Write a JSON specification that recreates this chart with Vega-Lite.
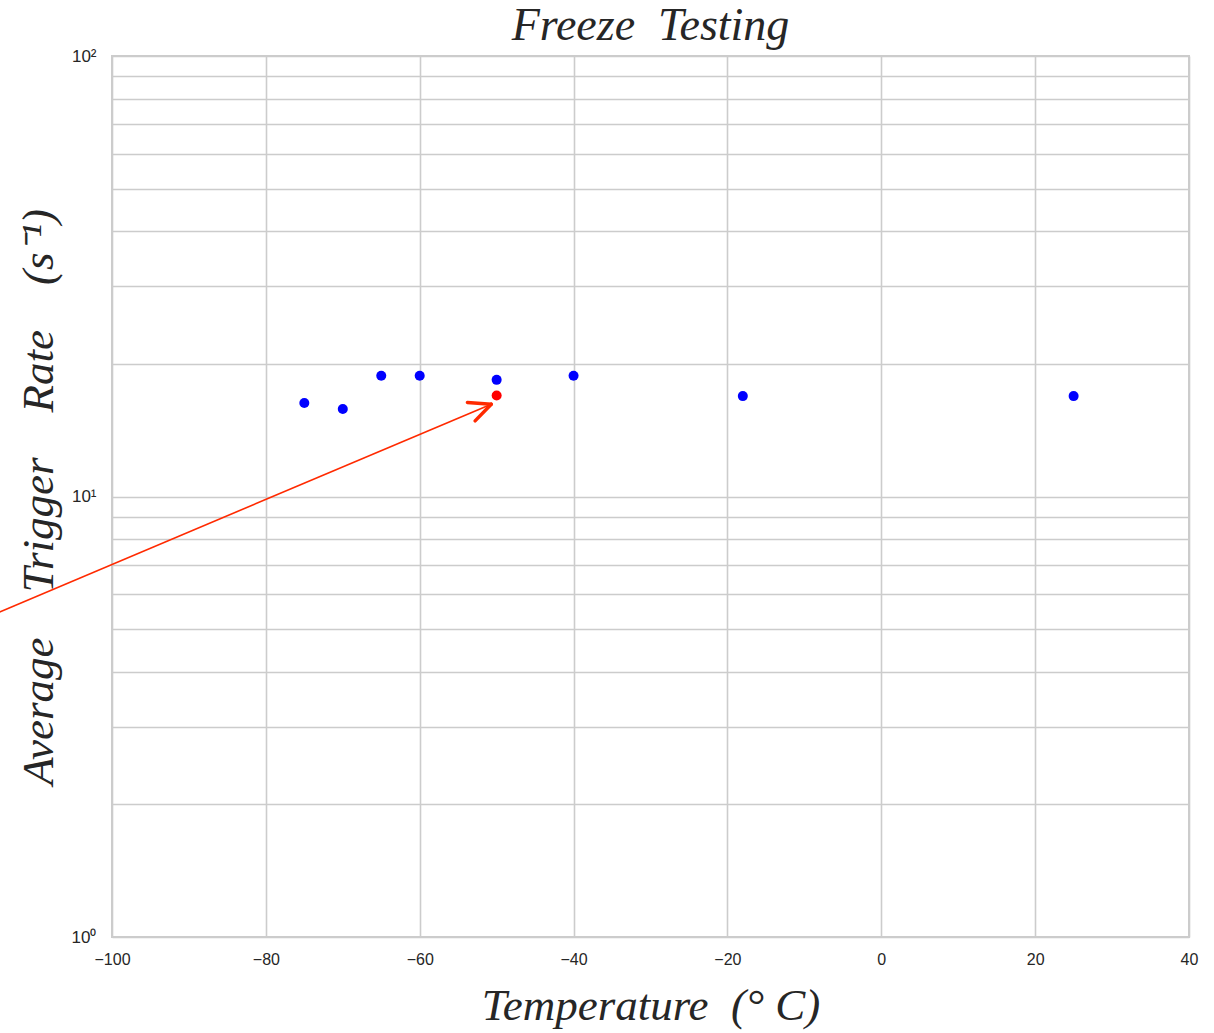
{
  "$schema": "https://vega.github.io/schema/vega-lite/v6.json",
  "width": 1077,
  "height": 881,
  "autosize": "none",
  "padding": {"left": 112, "top": 56, "right": 25, "bottom": 96},
  "background": "white",
  "config": {
    "view": {"stroke": "#cccccc", "strokeWidth": 2},
    "axis": {
      "grid": true,
      "gridColor": "#cccccc",
      "gridWidth": 1.6,
      "domain": false,
      "ticks": false,
      "labelFlush": false,
      "labelFont": "Liberation Sans",
      "labelFontSize": 16,
      "labelColor": "#262626",
      "titleFont": "Liberation Serif",
      "titleFontStyle": "italic",
      "titleFontWeight": "normal",
      "titleFontSize": 45,
      "titleColor": "#262626"
    }
  },
  "title": {
    "text": "Freeze\u00a0\u00a0Testing",
    "font": "Liberation Serif",
    "fontStyle": "italic",
    "fontWeight": "normal",
    "fontSize": 46,
    "color": "#262626",
    "offset": 6,
    "dy": 9
  },
  "datasets": {
    "points": [
      {"temp": -75, "rate": 16.3, "kind": "normal"},
      {"temp": -70, "rate": 15.8, "kind": "normal"},
      {"temp": -65, "rate": 18.8, "kind": "normal"},
      {"temp": -60, "rate": 18.8, "kind": "normal"},
      {"temp": -50, "rate": 18.4, "kind": "normal"},
      {"temp": -40, "rate": 18.8, "kind": "normal"},
      {"temp": -18, "rate": 16.9, "kind": "normal"},
      {"temp": 25, "rate": 16.9, "kind": "normal"},
      {"temp": -50, "rate": 16.95, "kind": "highlight"}
    ],
    "shaft": [
      {"temp": -114.6, "rate": 5.47, "seg": "shaft"},
      {"temp": -50.7, "rate": 16.2, "seg": "shaft"}
    ],
    "head": [
      {"temp": -53.8, "rate": 16.35, "seg": "a", "o": 1},
      {"temp": -50.7, "rate": 16.2, "seg": "a", "o": 2},
      {"temp": -50.7, "rate": 16.2, "seg": "b", "o": 1},
      {"temp": -52.8, "rate": 14.85, "seg": "b", "o": 2}
    ]
  },
  "layer": [
    {
      "data": {"name": "shaft"},
      "mark": {"type": "line", "color": "#ff2a00", "strokeWidth": 1.6, "clip": false},
      "encoding": {
        "x": {"field": "temp", "type": "quantitative"},
        "y": {"field": "rate", "type": "quantitative"}
      }
    },
    {
      "data": {"name": "head"},
      "mark": {"type": "line", "color": "#ff2a00", "strokeWidth": 3.5, "strokeCap": "round", "clip": false},
      "encoding": {
        "x": {"field": "temp", "type": "quantitative"},
        "y": {"field": "rate", "type": "quantitative"},
        "detail": {"field": "seg"},
        "order": {"field": "o"}
      }
    },
    {
      "data": {"name": "points"},
      "mark": {"type": "point", "filled": true, "opacity": 1, "size": 100},
      "encoding": {
        "x": {
          "field": "temp",
          "type": "quantitative",
          "scale": {"domain": [-100, 40], "nice": false, "zero": false},
          "axis": {
            "values": [-100, -80, -60, -40, -20, 0, 20, 40],
            "labelExpr": "datum.value < 0 ? '\u2212' + abs(datum.value) : '' + datum.value",
            "labelPadding": 14,
            "title": "Temperature\u00a0\u00a0(\u00b0\u00a0C)",
            "titlePadding": 16
          }
        },
        "y": {
          "field": "rate",
          "type": "quantitative",
          "scale": {"type": "log", "domain": [1, 100], "nice": false},
          "axis": {
            "values": [1, 2, 3, 4, 5, 6, 7, 8, 9, 10, 20, 30, 40, 50, 60, 70, 80, 90, 100],
            "labelExpr": "datum.value == 1 ? '10\u2070' : datum.value == 10 ? '10\u00b9' : datum.value == 100 ? '10\u00b2' : ''",
            "labelFontSize": 17,
            "labelPadding": 16,
            "title": "Average\u00a0\u00a0\u00a0\u00a0Trigger\u00a0\u00a0\u00a0\u00a0Rate\u00a0\u00a0\u00a0\u00a0(s\u207b\u00b9)",
            "titlePadding": 10
          }
        },
        "color": {
          "field": "kind",
          "type": "nominal",
          "scale": {"domain": ["normal", "highlight"], "range": ["#0000ff", "#ff0000"]},
          "legend": null
        }
      }
    }
  ]
}
